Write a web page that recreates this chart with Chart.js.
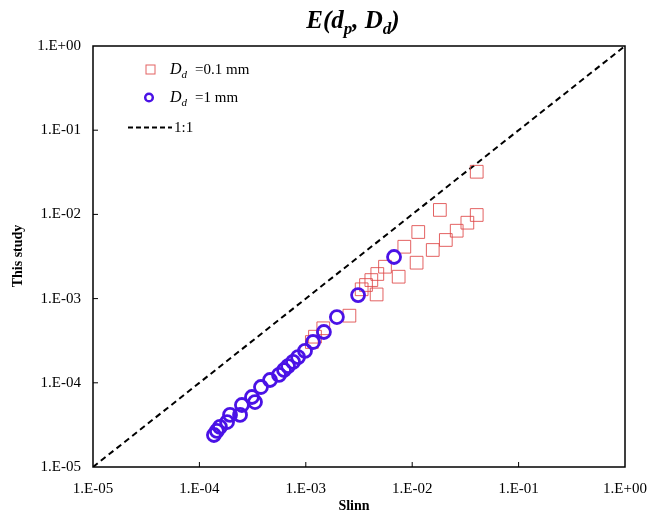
<!DOCTYPE html>
<html>
<head>
<meta charset="utf-8">
<script src="https://cdn.jsdelivr.net/npm/chart.js@4/dist/chart.umd.min.js"></script>
<style>
  html, body { margin: 0; padding: 0; background: #fff; }
  #wrap { width: 648px; height: 520px; position: relative; }
</style>
</head>
<body>
<div id="wrap"><canvas id="efficiencyChart" width="648" height="520"></canvas></div>
<script>
// Dd = 0.1 mm (red squares)
var slinnSmall = [0.0404, 0.0182, 0.0404, 0.0330, 0.0262, 0.0207, 0.0156, 0.0114, 0.00843, 0.0110,
    0.00746, 0.00555, 0.00470, 0.00413, 0.00368, 0.00335, 0.00463, 0.00257, 0.00146, 0.00122, 0.00114];
var studySmall = [0.0321, 0.0113, 0.00984, 0.00797, 0.00640, 0.00497, 0.00378, 0.00618, 0.00413, 0.00267,
    0.00182, 0.00239, 0.00196, 0.00166, 0.00145, 0.00129, 0.00112, 0.000627, 0.000444, 0.000353, 0.000305];

// Dd = 1 mm (blue circles)
var slinnLarge = [1.37e-4, 1.46e-4, 1.56e-4, 1.82e-4, 1.94e-4, 2.41e-4, 2.51e-4, 3.12e-4, 3.33e-4, 3.79e-4,
    4.61e-4, 5.60e-4, 6.24e-4, 6.81e-4, 7.59e-4, 8.46e-4, 9.83e-4, 1.17e-3, 1.48e-3, 1.96e-3, 3.10e-3, 6.75e-3];
var studyLarge = [2.40e-5, 2.68e-5, 2.99e-5, 3.42e-5, 4.15e-5, 4.15e-5, 5.45e-5, 6.78e-5, 5.91e-5, 8.91e-5,
    1.08e-4, 1.24e-4, 1.42e-4, 1.58e-4, 1.77e-4, 2.02e-4, 2.39e-4, 3.05e-4, 4.01e-4, 6.04e-4, 1.10e-3, 3.12e-3];

// 1:1 line
var oneToOne = [1e-5, 1];
var decades = [1e-5, 1e-4, 1e-3, 1e-2, 1e-1, 1];

var redColor = 'rgba(222, 70, 70, 0.85)';
var blueColor = '#4a12e6';
var serif = '"Liberation Serif", "Times New Roman", serif';

function toPoints(xs, ys) {
    let pts = new Array(xs.length);
    for (var i = 0; i < xs.length; i++)
        pts[i] = { x: xs[i], y: ys[i] };
    return pts;
}

function sciLabel(v) {
    let e = Math.round(Math.log10(v));
    let a = Math.abs(e);
    return '1.E' + (e < 0 ? '-' : '+') + (a < 10 ? '0' + a : a);
}

function setDecades(scale) {
    scale.ticks = decades.map(function (v) { return { value: v, major: true }; });
}

// frame, inward ticks, titles and legend
var decorations = {
    id: 'decorations',
    afterDraw: function (chart) {
        let ctx = chart.ctx;
        let a = chart.chartArea;
        let xs = chart.scales.x;
        let ys = chart.scales.y;
        ctx.save();

        ctx.strokeStyle = '#000';
        ctx.lineWidth = 1.5;
        ctx.strokeRect(a.left, a.top, a.right - a.left, a.bottom - a.top);

        ctx.lineWidth = 1;
        ctx.beginPath();
        for (var i = 1; i < decades.length - 1; i++) {
            let px = xs.getPixelForValue(decades[i]);
            ctx.moveTo(px, a.bottom);
            ctx.lineTo(px, a.bottom - 5);
            let py = ys.getPixelForValue(decades[i]);
            ctx.moveTo(a.left, py);
            ctx.lineTo(a.left + 5, py);
        }
        ctx.stroke();

        // title E(dp, Dd)
        ctx.fillStyle = '#000';
        ctx.textBaseline = 'alphabetic';
        let big = 'bold italic 25px ' + serif;
        let small = 'bold italic 17px ' + serif;
        let parts = [['E(d', big, 0], ['p', small, 6], [', D', big, 0], ['d', small, 6], [')', big, 0]];
        let w = 0;
        parts.forEach(function (p) { ctx.font = p[1]; w += ctx.measureText(p[0]).width; });
        let tx = 353 - w / 2;
        parts.forEach(function (p) {
            ctx.font = p[1];
            ctx.fillText(p[0], tx, 28 + p[2]);
            tx += ctx.measureText(p[0]).width;
        });

        // axis titles
        ctx.font = 'bold 14px ' + serif;
        ctx.textAlign = 'center';
        ctx.fillText('Slinn', 354, 510);
        ctx.save();
        ctx.translate(22, 256);
        ctx.rotate(-Math.PI / 2);
        ctx.fillText('This study', 0, 0);
        ctx.restore();

        // legend
        ctx.textAlign = 'left';
        ctx.strokeStyle = redColor;
        ctx.lineWidth = 1;
        ctx.strokeRect(146, 65, 9, 9);
        ctx.strokeStyle = blueColor;
        ctx.lineWidth = 2.5;
        ctx.beginPath();
        ctx.arc(149, 97.5, 3.8, 0, Math.PI * 2);
        ctx.stroke();
        ctx.strokeStyle = '#000';
        ctx.lineWidth = 2;
        ctx.setLineDash([5, 3]);
        ctx.beginPath();
        ctx.moveTo(128, 127.5);
        ctx.lineTo(172, 127.5);
        ctx.stroke();
        ctx.setLineDash([]);

        let labels = [['=0.1 mm', 74], ['=1 mm', 102]];
        labels.forEach(function (l) {
            ctx.font = 'italic 16px ' + serif;
            ctx.fillText('D', 170, l[1]);
            let dw = ctx.measureText('D').width;
            ctx.font = 'italic 11px ' + serif;
            ctx.fillText('d', 170 + dw, l[1] + 4);
            ctx.font = '15px ' + serif;
            ctx.fillText(l[0], 195, l[1]);
        });
        ctx.font = '15px ' + serif;
        ctx.fillText('1:1', 174, 132);

        ctx.restore();
    }
};

var ctx = document.getElementById('efficiencyChart').getContext('2d');
var efficiencyChart = new Chart(ctx, {
    type: 'scatter',
    data: {
        datasets: [{
            label: '1:1',
            type: 'line',
            data: toPoints(oneToOne, oneToOne),
            borderColor: '#000',
            borderWidth: 2,
            borderDash: [6, 4],
            pointRadius: 0,
            fill: false,
            order: 3
        }, {
            label: 'Dd =0.1 mm',
            data: toPoints(slinnSmall, studySmall),
            pointStyle: 'rect',
            pointRadius: 9,
            borderColor: redColor,
            backgroundColor: 'rgba(0,0,0,0)',
            borderWidth: 1,
            order: 2
        }, {
            label: 'Dd =1 mm',
            data: toPoints(slinnLarge, studyLarge),
            pointStyle: 'circle',
            pointRadius: 6.5,
            borderColor: blueColor,
            backgroundColor: 'rgba(0,0,0,0)',
            borderWidth: 2.8,
            order: 1
        }]
    },
    options: {
        responsive: false,
        animation: false,
        layout: {
            padding: { left: 0, right: 23, top: 46, bottom: 0 }
        },
        plugins: {
            legend: { display: false },
            tooltip: { enabled: false }
        },
        scales: {
            x: {
                type: 'logarithmic',
                min: 1e-5,
                max: 1,
                afterBuildTicks: setDecades,
                afterFit: function (scale) {
                    scale.height = 53;
                    scale.paddingLeft = 0;
                    scale.paddingRight = 0;
                },
                grid: { display: false },
                border: { display: false },
                ticks: {
                    padding: 5,
                    color: '#000',
                    maxRotation: 0,
                    autoSkip: false,
                    font: { family: serif, size: 15 },
                    callback: function (v) { return sciLabel(v); }
                }
            },
            y: {
                type: 'logarithmic',
                min: 1e-5,
                max: 1,
                afterBuildTicks: setDecades,
                afterFit: function (scale) {
                    scale.width = 93;
                    scale.paddingTop = 0;
                    scale.paddingBottom = 0;
                },
                grid: { display: false },
                border: { display: false },
                ticks: {
                    padding: 4,
                    color: '#000',
                    autoSkip: false,
                    font: { family: serif, size: 15 },
                    callback: function (v) { return sciLabel(v); }
                }
            }
        }
    },
    plugins: [decorations]
});
</script>
</body>
</html>
